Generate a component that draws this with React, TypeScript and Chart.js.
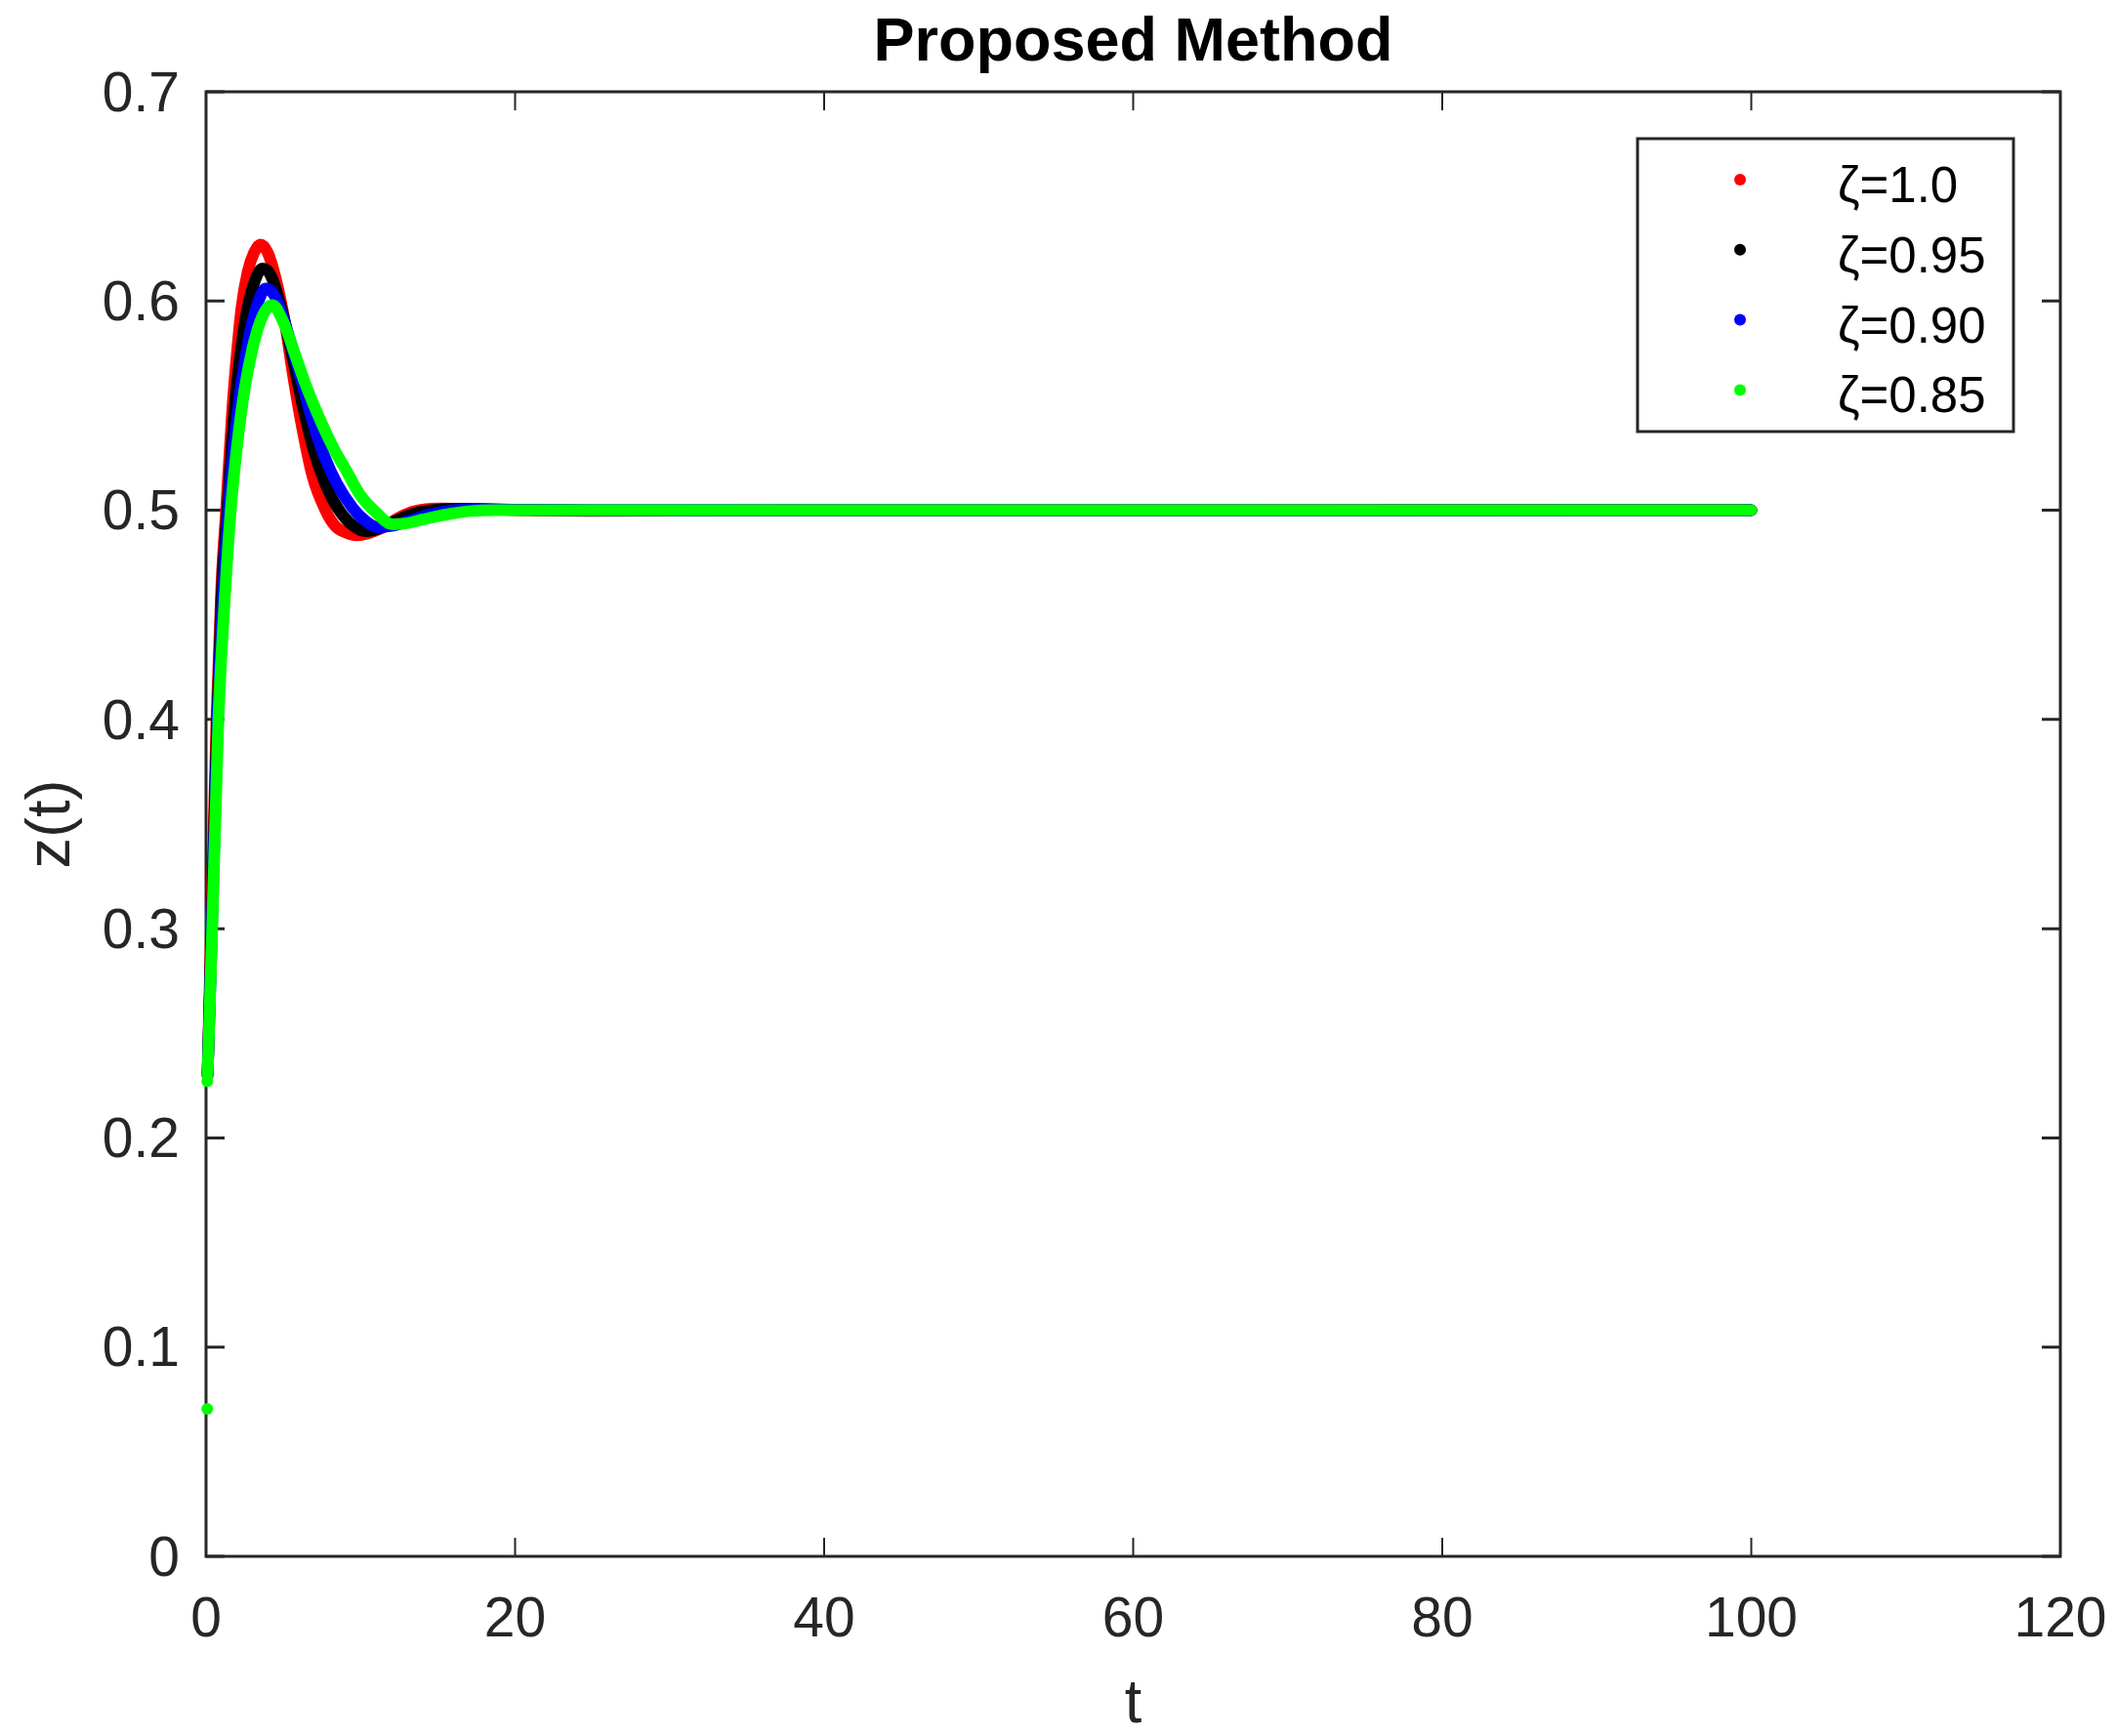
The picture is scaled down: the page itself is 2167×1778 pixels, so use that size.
import React, { useEffect, useRef } from "react";
import { Chart, registerables } from "chart.js";

Chart.register(...registerables);

// ---- data ----
const seriesLabels = ["ζ=1.0", "ζ=0.95", "ζ=0.90", "ζ=0.85"];
const seriesColors = ["#ff0000", "#000000", "#0000ff", "#00ff00"];

const redT = [0.1, 0.33, 0.68, 1.0, 1.3, 1.7, 2.0, 2.3, 2.7, 3.1, 3.52, 4.0, 4.5, 5.1, 5.6, 6.13, 6.9, 7.73, 8.36, 9.0, 9.73, 10.5, 11.5, 12.5, 13.5, 15.1, 17, 20, 25, 35, 100];
const redZ = [0.23, 0.3, 0.4, 0.465, 0.5, 0.548, 0.575, 0.597, 0.614, 0.623, 0.627, 0.623, 0.611, 0.59, 0.566, 0.543, 0.516, 0.5, 0.4925, 0.4895, 0.488, 0.489, 0.492, 0.4965, 0.4995, 0.5008, 0.5005, 0.5001, 0.4997, 0.4999, 0.5];

const blackT = [0.1, 0.36, 0.72, 1.0, 1.38, 1.7, 2.0, 2.5, 3.0, 3.66, 4.2, 5.0, 5.6, 6.2, 7.0, 7.6, 8.36, 9.3, 10.36, 11.3, 12.3, 13.5, 15, 16.6, 18, 20, 25, 100];
const blackZ = [0.23, 0.3, 0.4, 0.458, 0.5, 0.535, 0.56, 0.589, 0.606, 0.6155, 0.612, 0.593, 0.573, 0.552, 0.528, 0.515, 0.503, 0.494, 0.49, 0.4915, 0.495, 0.4985, 0.5003, 0.5007, 0.5005, 0.5002, 0.4999, 0.5];

const blueT = [0.1, 0.38, 0.75, 1.05, 1.45, 1.8, 2.2, 2.6, 3.0, 3.4, 3.85, 4.4, 5.0, 5.6, 6.2, 7.0, 7.7, 8.47, 9.5, 10.3, 11.1, 12, 13, 14, 15, 16.5, 18, 20, 25, 100];
const blueZ = [0.23, 0.3, 0.4, 0.452, 0.5, 0.53, 0.556, 0.575, 0.59, 0.6, 0.606, 0.603, 0.592, 0.577, 0.561, 0.54, 0.525, 0.5127, 0.501, 0.495, 0.4919, 0.4925, 0.4945, 0.497, 0.4988, 0.5003, 0.5005, 0.5003, 0.5, 0.5];

const greenT = [0.1, 0.4, 0.8, 1.15, 1.6, 2.0, 2.5, 3.0, 3.5, 4.0, 4.3, 5.0, 5.83, 6.5, 7.52, 8.3, 9.0, 10.0, 11.0, 12.05, 13, 14, 15, 16, 17, 18.7, 20, 100];
const greenZ = [0.23, 0.3, 0.4, 0.45, 0.5, 0.53, 0.558, 0.577, 0.59, 0.597, 0.598, 0.59, 0.573, 0.559, 0.541, 0.529, 0.52, 0.507, 0.499, 0.4933, 0.4938, 0.4955, 0.4972, 0.4985, 0.4995, 0.5, 0.5, 0.5];

const startDotT = [0.08, 0.08];
const startDotZ = [0.0705, 0.227];

const xMin = 0, xMax = 120, xStep = 20;
const yMin = 0, yMax = 0.7, yStep = 0.1;

const titleText = "Proposed Method";
const xLabel = "t";
const yLabel = "z(t)";

const AXIS = "#262626";
const FONT = '"Liberation Sans", Arial, Helvetica, sans-serif';

const toPts = (t: number[], z: number[]) => t.map((v, i) => ({ x: v, y: z[i] }));

const framePlugin = {
  id: "frame",
  beforeDatasetsDraw(chart: any) {
    const { ctx, chartArea: a, scales } = chart;
    const xs = scales.x, ys = scales.y;
    ctx.save();
    ctx.strokeStyle = AXIS;
    ctx.lineWidth = 3;
    ctx.strokeRect(a.left, a.top, a.right - a.left, a.bottom - a.top);
    const tl = 19;
    ctx.lineWidth = 2;
    xs.ticks.forEach((t: any) => {
      const px = xs.getPixelForValue(t.value);
      ctx.beginPath();
      ctx.moveTo(px, a.bottom); ctx.lineTo(px, a.bottom - tl);
      ctx.moveTo(px, a.top); ctx.lineTo(px, a.top + tl);
      ctx.stroke();
    });
    ctx.lineWidth = 3;
    ys.ticks.forEach((t: any) => {
      const py = ys.getPixelForValue(t.value);
      ctx.beginPath();
      ctx.moveTo(a.left, py); ctx.lineTo(a.left + tl, py);
      ctx.moveTo(a.right, py); ctx.lineTo(a.right - tl, py);
      ctx.stroke();
    });
    ctx.restore();
  },
  afterDraw(chart: any) {
    const { ctx, chartArea: a } = chart;
    ctx.save();
    // title
    ctx.fillStyle = "#000000";
    ctx.font = `bold 63px ${FONT}`;
    ctx.textAlign = "center";
    ctx.textBaseline = "alphabetic";
    ctx.fillText(titleText, (a.left + a.right) / 2, 62);
    // axis labels
    ctx.fillStyle = AXIS;
    ctx.font = `63px ${FONT}`;
    ctx.fillText(xLabel, (a.left + a.right) / 2, 1764);
    ctx.save();
    ctx.translate(54, (a.top + a.bottom) / 2);
    ctx.rotate(-Math.PI / 2);
    ctx.textBaseline = "middle";
    ctx.fillText(yLabel, 0, 0);
    ctx.restore();
    // legend
    const lx = 1677, ly = 142, lw = 385, lh = 300;
    ctx.fillStyle = "#ffffff";
    ctx.fillRect(lx, ly, lw, lh);
    ctx.strokeStyle = AXIS;
    ctx.lineWidth = 3;
    ctx.strokeRect(lx, ly, lw, lh);
    ctx.font = `51px ${FONT}`;
    ctx.textAlign = "left";
    ctx.textBaseline = "alphabetic";
    seriesLabels.forEach((lab, i) => {
      const ry = 184 + i * 71.8;
      ctx.fillStyle = seriesColors[i];
      ctx.beginPath();
      ctx.arc(1782, ry, 6, 0, Math.PI * 2);
      ctx.fill();
      ctx.fillStyle = "#000000";
      ctx.fillText(lab, 1882, ry + 23);
    });
    ctx.restore();
  },
};

export default function App() {
  const ref = useRef<HTMLCanvasElement | null>(null);
  useEffect(() => {
    if (!ref.current) return;
    const series = [
      { t: redT, z: redZ, order: 4 },
      { t: blackT, z: blackZ, order: 3 },
      { t: blueT, z: blueZ, order: 2 },
      { t: greenT, z: greenZ, order: 1 },
    ];
    const datasets: any[] = series.map((s, i) => ({
      label: seriesLabels[i],
      data: toPts(s.t, s.z),
      showLine: true,
      borderColor: seriesColors[i],
      backgroundColor: seriesColors[i],
      borderWidth: 12,
      borderCapStyle: "round",
      borderJoinStyle: "round",
      cubicInterpolationMode: "monotone",
      pointRadius: 0,
      pointHoverRadius: 0,
      clip: false,
      order: s.order,
    }));
    datasets.push({
      label: "start",
      data: toPts(startDotT, startDotZ),
      showLine: false,
      pointRadius: 6,
      pointBorderWidth: 0,
      pointBackgroundColor: seriesColors[3],
      backgroundColor: seriesColors[3],
      borderColor: seriesColors[3],
      clip: false,
      order: 0,
    });
    const chart = new Chart(ref.current, {
      type: "scatter",
      data: { datasets },
      plugins: [framePlugin],
      options: {
        animation: false,
        responsive: false,
        maintainAspectRatio: false,
        events: [],
        layout: { padding: { left: 0, top: 94, right: 57, bottom: 0 } },
        plugins: { legend: { display: false }, title: { display: false }, tooltip: { enabled: false } },
        scales: {
          x: {
            type: "linear",
            min: xMin,
            max: xMax,
            grid: { display: false, drawTicks: false },
            border: { display: false },
            ticks: {
              stepSize: xStep,
              padding: 32,
              color: AXIS,
              font: { family: FONT, size: 57 },
              maxRotation: 0,
            },
            afterFit: (s: any) => { s.height = 184; s.paddingLeft = 0; s.paddingRight = 0; },
          },
          y: {
            type: "linear",
            min: yMin,
            max: yMax,
            grid: { display: false, drawTicks: false },
            border: { display: false },
            ticks: {
              stepSize: yStep,
              padding: 27,
              labelOffset: 4,
              color: AXIS,
              font: { family: FONT, size: 57 },
              callback: (v: any) => String(Number(Number(v).toFixed(1))),
            },
            afterFit: (s: any) => { s.width = 211; s.paddingTop = 0; s.paddingBottom = 0; },
          },
        },
      } as any,
    });
    return () => chart.destroy();
  }, []);
  return (
    <div style={{ position: "absolute", left: 0, top: 0, width: 2167, height: 1778, background: "#ffffff" }}>
      <canvas ref={ref} width={2167} height={1778} style={{ display: "block" }} />
    </div>
  );
}
